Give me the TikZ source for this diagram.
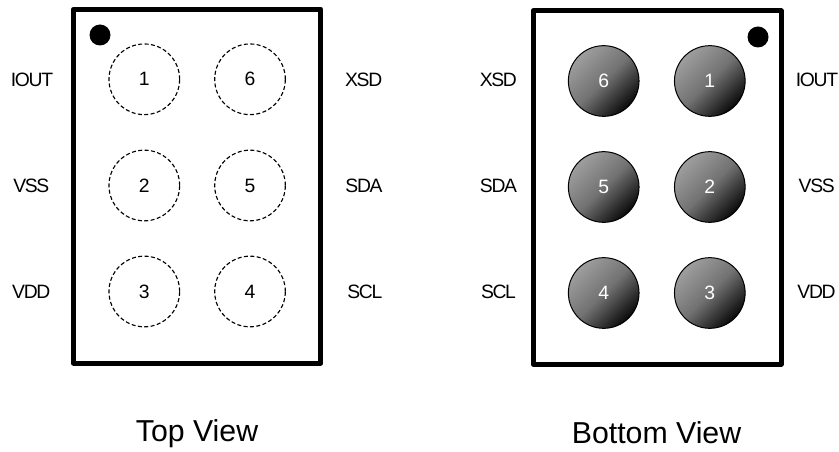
\documentclass[tikz,border=0pt]{standalone}
\usepackage{fontspec}
\setmainfont{Liberation Sans}
\definecolor{ballhi}{HTML}{9E9E9E}
\definecolor{ballmid}{HTML}{727272}
\definecolor{balllo}{HTML}{0A0A0A}
\newcommand{\tightfont}{\fontsize{14.5}{17}\selectfont\addfontfeature{LetterSpace=-7}}
\tikzset{
  px/.style={x=0.75pt,y=-0.75pt},
  pkg/.style={draw=black,line width=3.75pt,line join=round,fill=white},
  mark dot/.style={circle,fill=black,minimum size=15.75pt,inner sep=0pt},
  padtop/.style={circle,draw=black,dash pattern=on 3pt off 1.8pt,line width=0.85pt,minimum size=53pt,inner sep=0pt,font=\fontsize{14.5}{17}\selectfont},
  padbot/.style={circle,draw=black,line width=0.75pt,minimum size=53pt,inner sep=0pt,text=white,font=\fontsize{14.5}{17}\selectfont,
    top color=ballhi,bottom color=balllo,middle color=ballmid,shading angle=45},
  pinlabel/.style={font=\tightfont,inner sep=0pt,anchor=base},
  caption/.style={font=\fontsize{22.7}{27}\selectfont,inner sep=0pt,anchor=base}
}
\begin{document}
\begin{tikzpicture}[px]
\useasboundingbox (0,0) rectangle (839,452);
\fill[white] (0,0) rectangle (839,452);
\draw[pkg] (73.3,9.2) rectangle (320.8,363);
\draw[pkg] (533.3,10.8) rectangle (781,364.2);
\node[mark dot] (dotL) at (100,35) {};
\node[mark dot] (dotR) at (758,37) {};
\node[padtop] (t1) at (144.3,79.3) {1};
\node[padtop] (t6) at (250,79.3) {6};
\node[padtop] (t2) at (144.3,185.5) {2};
\node[padtop] (t5) at (250,185.5) {5};
\node[padtop] (t3) at (144.3,291.5) {3};
\node[padtop] (t4) at (250,291.5) {4};
\node[padbot] (b6) at (603.7,81) {6};
\node[padbot] (b1) at (709.8,81) {1};
\node[padbot] (b5) at (603.7,187) {5};
\node[padbot] (b2) at (709.8,187) {2};
\node[padbot] (b4) at (603.7,293) {4};
\node[padbot] (b3) at (709.8,293) {3};
\node[pinlabel] (l1) at (32,87) {IOUT};
\node[pinlabel] (l2) at (31.3,193) {VSS};
\node[pinlabel] (l3) at (31.3,299) {VDD};
\node[pinlabel] (l6) at (363.7,87) {XSD};
\node[pinlabel] (l5) at (364,193) {SDA};
\node[pinlabel] (l4) at (364.8,299) {SCL};
\node[pinlabel] (r6) at (498.3,87) {XSD};
\node[pinlabel] (r5) at (498.5,193) {SDA};
\node[pinlabel] (r4) at (498.5,299) {SCL};
\node[pinlabel] (r1) at (817,87) {IOUT};
\node[pinlabel] (r2) at (816.7,193) {VSS};
\node[pinlabel] (r3) at (816.5,299) {VDD};
\node[caption] (c1) at (197,441.7) {Top View};
\node[caption] (c2) at (656.5,443.3) {Bottom View};
\end{tikzpicture}
\end{document}
